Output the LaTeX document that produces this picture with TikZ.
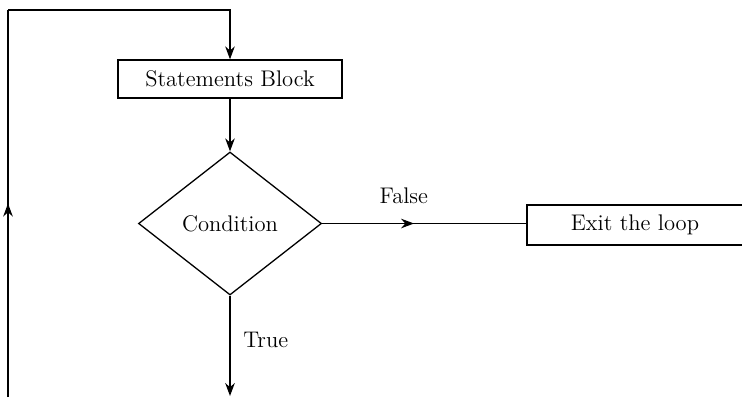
\documentclass[tikz,border=0pt]{standalone}
\usetikzlibrary{shapes.geometric,arrows.meta,decorations.markings}

\tikzset{
    block/.style={draw, rectangle, minimum width=112pt, minimum height=19pt, inner sep=0pt},
    decision/.style={draw, diamond, minimum width=91.5pt, minimum height=71.5pt, inner sep=0pt},
    flow/.style={line width=0.65pt, -{Stealth[length=6.5pt,width=4.8pt]}},
    midarrow/.style={postaction={decorate}, decoration={markings,
        mark=at position #1 with {\arrow{Stealth[length=6.5pt,width=4.8pt]}}}}
}

\begin{document}
\begin{tikzpicture}[x=0.5pt, y=-0.5pt, line width=0.65pt, font=\fontsize{11.3}{13}\selectfont]
    \useasboundingbox (0,0) rectangle (742,397);

    % Nodes of the loop
    \node[block] (stmt) at (230,79) {Statements Block};
    \node[decision] (cond) at (230,223.5) {Condition};
    \node[block, minimum width=108pt, minimum height=20pt] (exit) at (635,225) {Exit the loop};

    % Free ends of the connectors
    \coordinate (loopstart) at (8,397);
    \coordinate (loopcorner) at (8,10);
    \coordinate (trueend) at (230,396);

    % Statements block into the condition
    \draw[flow] (stmt) -- (cond);

    % False branch leaves the loop
    \draw[midarrow=0.45] (cond.east) -- (exit.west |- cond.east)
        node[pos=0.4, above=6pt] {False};

    % True branch goes down and back round
    \draw[flow] (cond.south) -- (trueend)
        node[pos=0.44, right=3pt] {True};
    \draw[midarrow=0.5] (loopstart) -- (loopcorner);
    \draw[flow] (loopcorner) -| (stmt.north);

\end{tikzpicture}
\end{document}
